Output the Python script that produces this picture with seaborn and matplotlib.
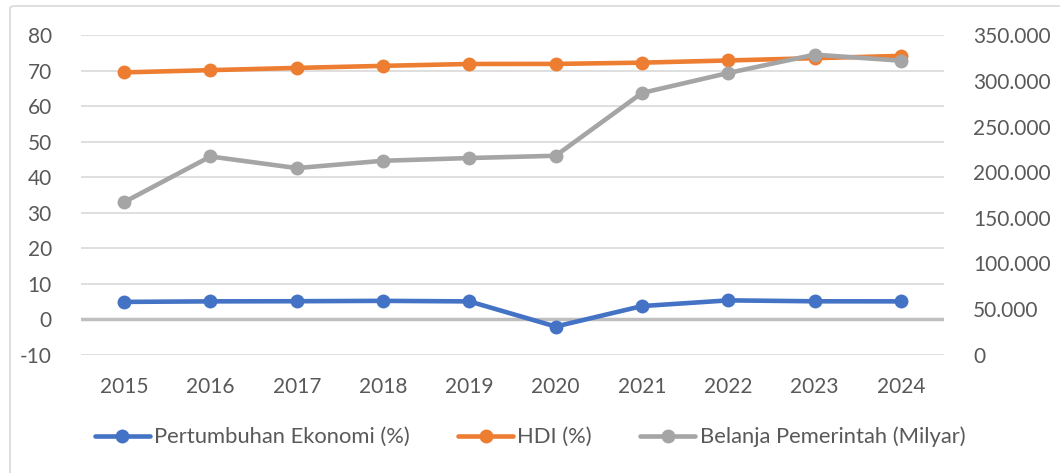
import numpy as np
import pandas as pd
import matplotlib
matplotlib.use("Agg")
import matplotlib.pyplot as plt
import seaborn as sns
from matplotlib.patches import FancyBboxPatch
from matplotlib.ticker import FuncFormatter

years = ["2015", "2016", "2017", "2018", "2019", "2020", "2021", "2022", "2023", "2024"]
growth = [4.88, 5.03, 5.07, 5.17, 5.02, -2.07, 3.70, 5.31, 5.05, 5.03]
hdi = [69.55, 70.18, 70.81, 71.39, 71.92, 71.94, 72.29, 72.91, 73.55, 74.20]
spending = [167200, 217200, 204500, 212500, 215500, 218000, 286800, 308700, 328800, 322200]

label_growth = "Pertumbuhan Ekonomi (%)"
label_hdi = "HDI (%)"
label_spend = "Belanja Pemerintah (Milyar)"

sns.set_style("white")
plt.rcParams["font.family"] = ["Lato", "DejaVu Sans"]
plt.rcParams["axes.unicode_minus"] = False
txt = "#595959"
fs = 15

df = pd.DataFrame({"year": years, "growth": growth, "hdi": hdi, "spending": spending})
df["x"] = np.arange(len(years))

fig = plt.figure(figsize=(10.6, 4.73), dpi=100)
ax = fig.add_axes([81 / 1060, 1 - 354.7 / 473, (944 - 81) / 1060, (354.7 - 35.3) / 473])
ax2 = ax.twinx()

lw = 3.3
ms = 10
sns.lineplot(data=df, x="x", y="growth", ax=ax, color="#4472C4", lw=lw, marker="o",
             markersize=ms, markeredgewidth=0, sort=False, label=label_growth, zorder=4)
sns.lineplot(data=df, x="x", y="hdi", ax=ax, color="#ED7D31", lw=lw, marker="o",
             markersize=ms, markeredgewidth=0, sort=False, label=label_hdi, zorder=4)
sns.lineplot(data=df, x="x", y="spending", ax=ax2, color="#A5A5A5", lw=lw, marker="o",
             markersize=ms, markeredgewidth=0, sort=False, label=label_spend, zorder=5)

ax.set_xlim(-0.5, len(years) - 0.5)
ax.set_ylim(-10, 80)
ax.set_yticks(range(-10, 81, 10))
ax2.set_ylim(0, 350000)
ax2.set_yticks(range(0, 350001, 50000))
ax2.yaxis.set_major_formatter(FuncFormatter(lambda v, p: f"{int(v):,}".replace(",", ".")))

ax.set_xticks(df["x"])
ax.set_xticklabels(years)
ax.grid(axis="y", color="#D9D9D9", lw=1.2)
ax.axhline(0, color="#BFBFBF", lw=2.5, zorder=2)
ax.set_axisbelow(True)

for a in (ax, ax2):
    for s in a.spines.values():
        s.set_visible(False)
    a.set_xlabel("")
    a.set_ylabel("")
    a.tick_params(length=0, labelsize=fs, colors=txt)
ax.tick_params(axis="y", pad=21)
ax.tick_params(axis="x", pad=16)
ax2.tick_params(axis="y", pad=21)

h1, l1 = ax.get_legend_handles_labels()
h2, l2 = ax2.get_legend_handles_labels()
ax.get_legend().remove()
ax2.get_legend().remove()
leg = fig.legend(h1 + h2, l1 + l2, loc="center", bbox_to_anchor=(0.5, 1 - 437 / 473),
                 ncol=3, frameon=False, fontsize=15.8, handlelength=2.5, handletextpad=0.2,
                 columnspacing=2.2)
for t in leg.get_texts():
    t.set_color(txt)

border = FancyBboxPatch((10 / 1060, -0.05), 1.2, 1.05 - 6 / 473,
                        boxstyle="round,pad=0,rounding_size=0.005",
                        transform=fig.transFigure, fill=False, ec="#D9D9D9", lw=1.2)
fig.patches.append(border)

fig.savefig("out.png", dpi=100)
